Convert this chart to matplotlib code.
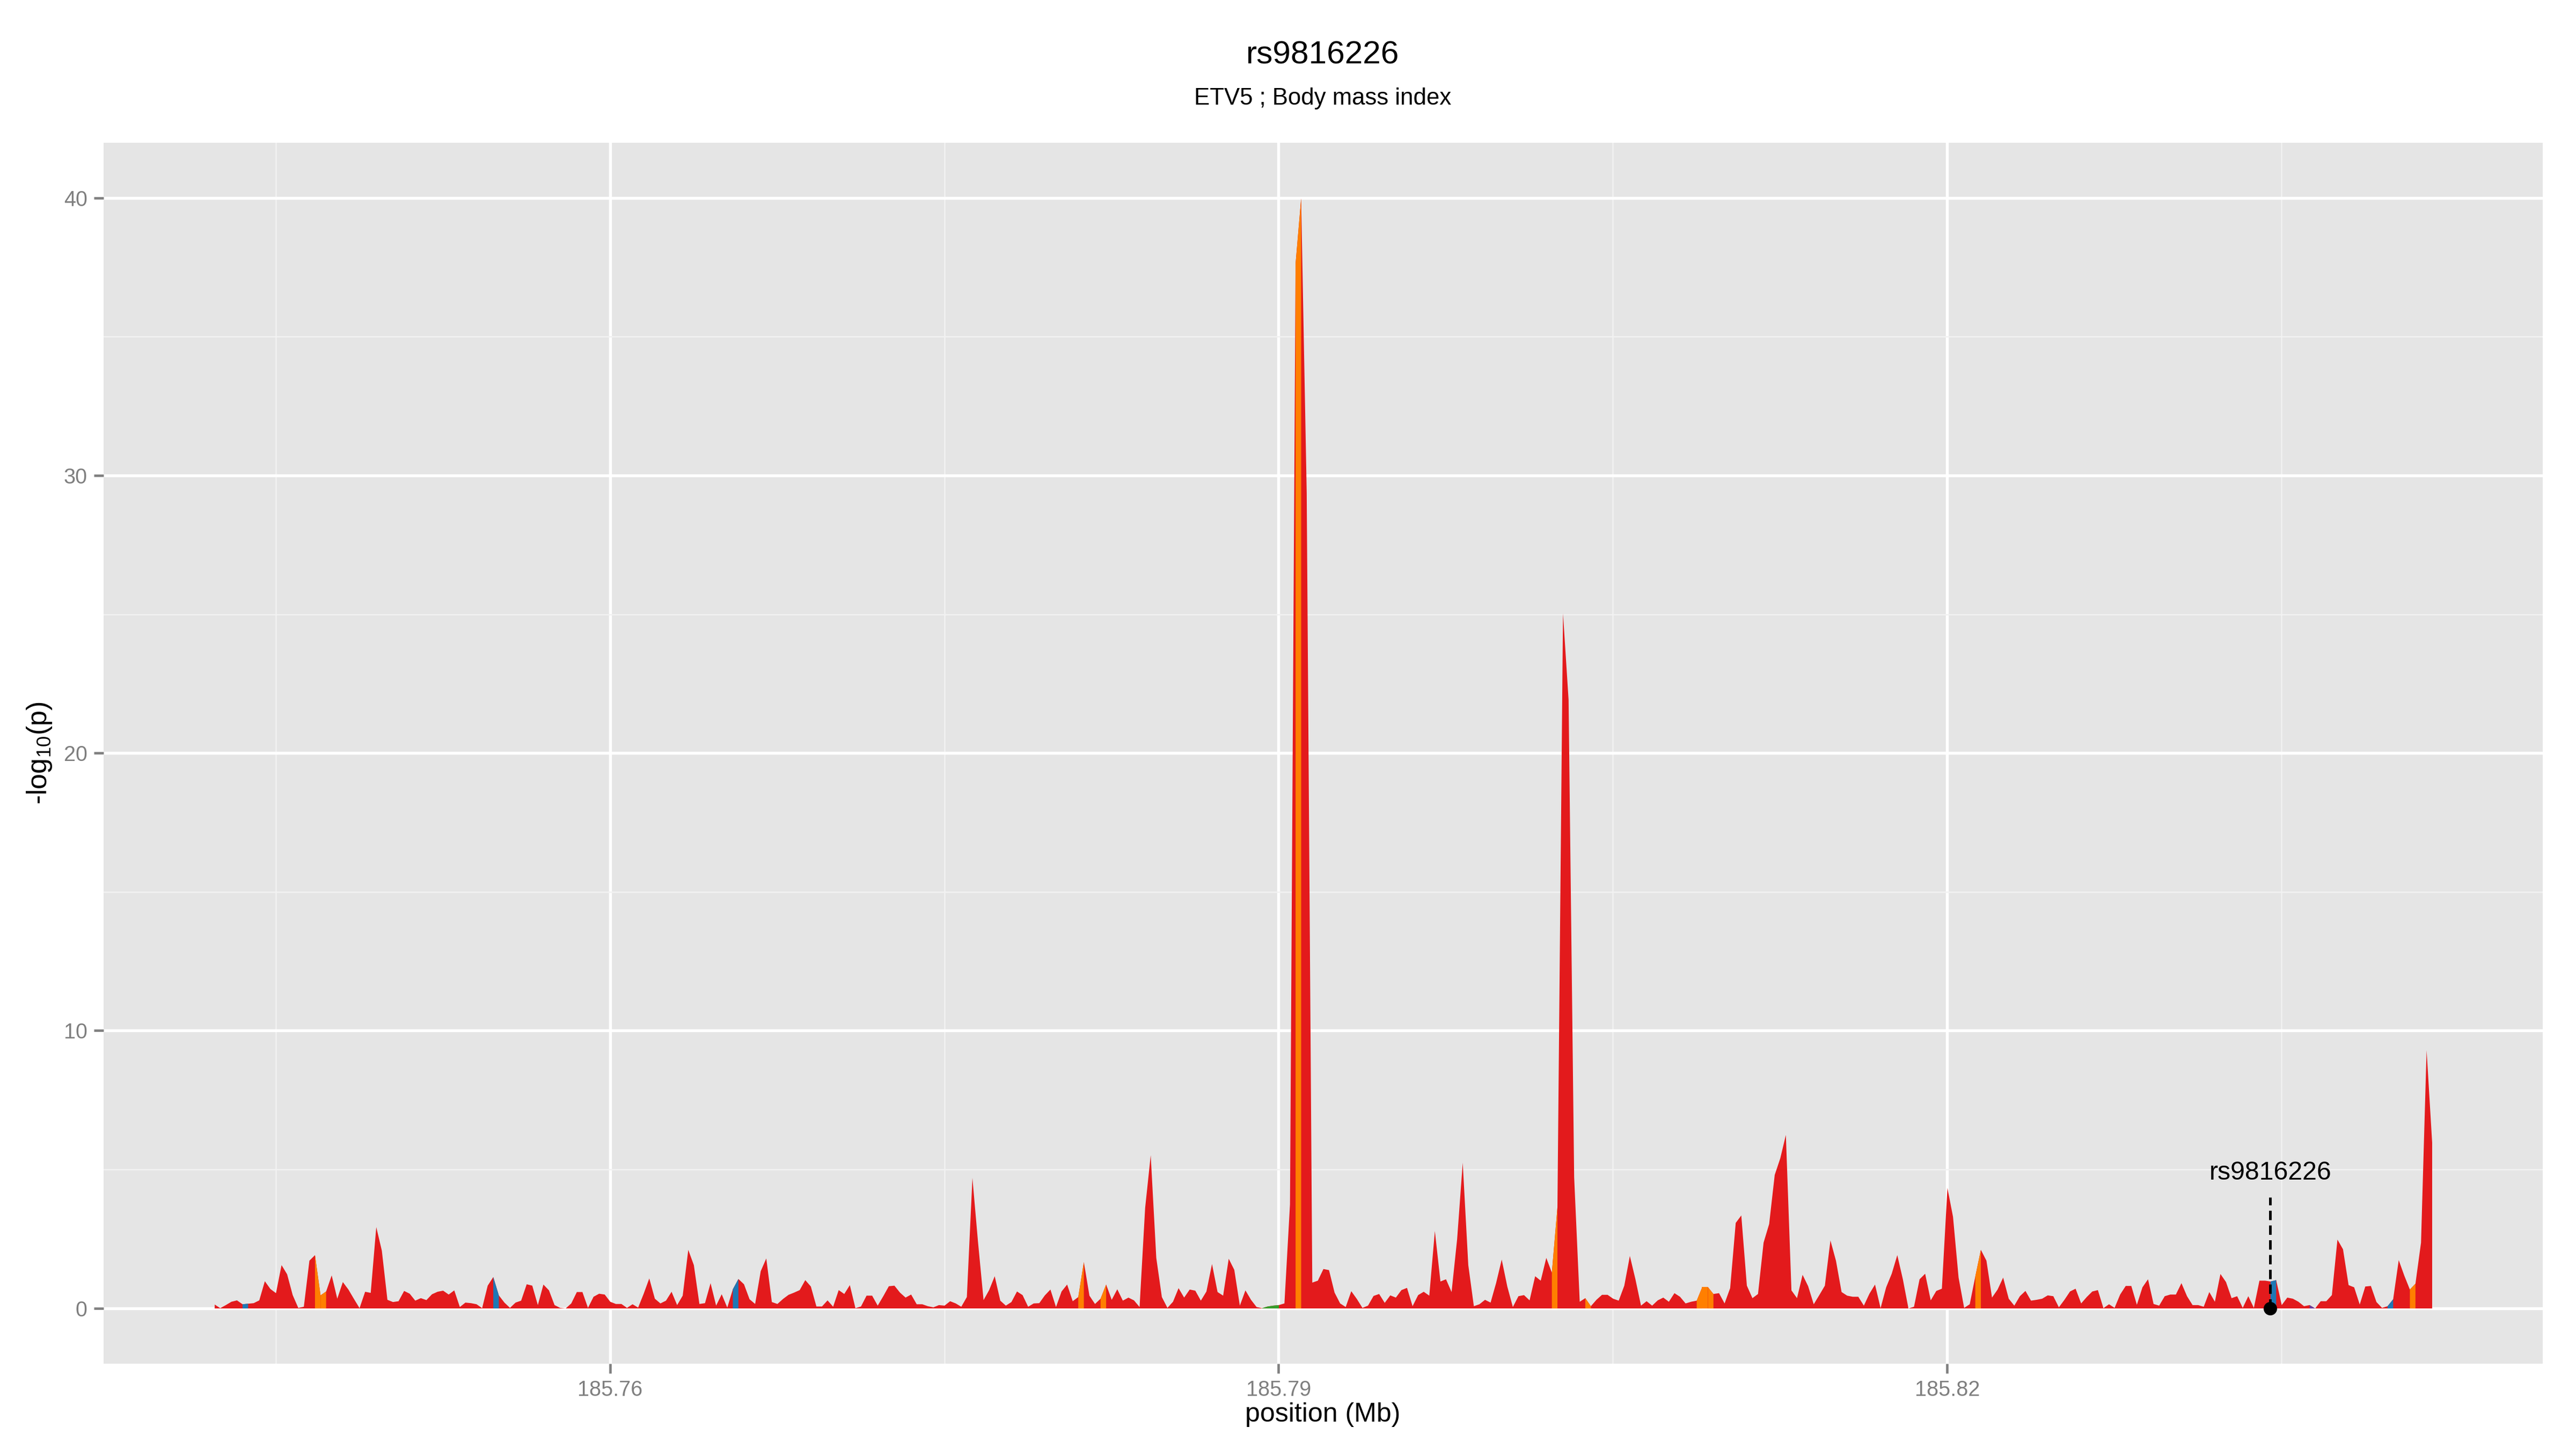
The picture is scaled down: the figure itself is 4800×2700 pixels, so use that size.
import numpy as np
import matplotlib.pyplot as plt

plt.switch_backend('Agg')
plt.rcParams['font.family'] = ['Liberation Sans', 'DejaVu Sans']
plt.rcParams['mathtext.fontset'] = 'custom'
plt.rcParams['mathtext.rm'] = 'Liberation Sans'

### data
title = 'rs9816226'
subtitle = 'ETV5 ; Body mass index'
lead_snp = 'rs9816226'
lead_bp = 185834500

position_bp = [
  185742250, 185742500, 185742750, 185743000, 185743250, 185743500, 185743750, 185744000, 185744250, 185744500,
  185744750, 185745000, 185745250, 185745500, 185745750, 185746000, 185746250, 185746500, 185746750, 185747000,
  185747250, 185747500, 185747750, 185748000, 185748250, 185748500, 185748750, 185749000, 185749250, 185749500,
  185749750, 185750000, 185750250, 185750500, 185750750, 185751000, 185751250, 185751500, 185751750, 185752000,
  185752250, 185752500, 185752750, 185753000, 185753250, 185753500, 185753750, 185754000, 185754250, 185754500,
  185754750, 185755000, 185755250, 185755500, 185755750, 185756000, 185756250, 185756500, 185756750, 185757000,
  185757250, 185757500, 185757750, 185758000, 185758250, 185758500, 185758750, 185759000, 185759250, 185759500,
  185759750, 185760000, 185760250, 185760500, 185760750, 185761000, 185761250, 185761500, 185761750, 185762000,
  185762250, 185762500, 185762750, 185763000, 185763250, 185763500, 185763750, 185764000, 185764250, 185764500,
  185764750, 185765000, 185765250, 185765500, 185765750, 185766000, 185766250, 185766500, 185766750, 185767000,
  185767250, 185767500, 185767750, 185768000, 185768250, 185768500, 185768750, 185769000, 185769250, 185769500,
  185769750, 185770000, 185770250, 185770500, 185770750, 185771000, 185771250, 185771500, 185771750, 185772000,
  185772250, 185772500, 185772750, 185773000, 185773250, 185773500, 185773750, 185774000, 185774250, 185774500,
  185774750, 185775000, 185775250, 185775500, 185775750, 185776000, 185776250, 185776500, 185776750, 185777000,
  185777250, 185777500, 185777750, 185778000, 185778250, 185778500, 185778750, 185779000, 185779250, 185779500,
  185779750, 185780000, 185780250, 185780500, 185780750, 185781000, 185781250, 185781500, 185781750, 185782000,
  185782250, 185782500, 185782750, 185783000, 185783250, 185783500, 185783750, 185784000, 185784250, 185784500,
  185784750, 185785000, 185785250, 185785500, 185785750, 185786000, 185786250, 185786500, 185786750, 185787000,
  185787250, 185787500, 185787750, 185788000, 185788250, 185788500, 185788750, 185789000, 185789250, 185789500,
  185789750, 185790000, 185790250, 185790500, 185790750, 185791000, 185791250, 185791500, 185791750, 185792000,
  185792250, 185792500, 185792750, 185793000, 185793250, 185793500, 185793750, 185794000, 185794250, 185794500,
  185794750, 185795000, 185795250, 185795500, 185795750, 185796000, 185796250, 185796500, 185796750, 185797000,
  185797250, 185797500, 185797750, 185798000, 185798250, 185798500, 185798750, 185799000, 185799250, 185799500,
  185799750, 185800000, 185800250, 185800500, 185800750, 185801000, 185801250, 185801500, 185801750, 185802000,
  185802250, 185802500, 185802750, 185803000, 185803250, 185803500, 185803750, 185804000, 185804250, 185804500,
  185804750, 185805000, 185805250, 185805500, 185805750, 185806000, 185806250, 185806500, 185806750, 185807000,
  185807250, 185807500, 185807750, 185808000, 185808250, 185808500, 185808750, 185809000, 185809250, 185809500,
  185809750, 185810000, 185810250, 185810500, 185810750, 185811000, 185811250, 185811500, 185811750, 185812000,
  185812250, 185812500, 185812750, 185813000, 185813250, 185813500, 185813750, 185814000, 185814250, 185814500,
  185814750, 185815000, 185815250, 185815500, 185815750, 185816000, 185816250, 185816500, 185816750, 185817000,
  185817250, 185817500, 185817750, 185818000, 185818250, 185818500, 185818750, 185819000, 185819250, 185819500,
  185819750, 185820000, 185820250, 185820500, 185820750, 185821000, 185821250, 185821500, 185821750, 185822000,
  185822250, 185822500, 185822750, 185823000, 185823250, 185823500, 185823750, 185824000, 185824250, 185824500,
  185824750, 185825000, 185825250, 185825500, 185825750, 185826000, 185826250, 185826500, 185826750, 185827000,
  185827250, 185827500, 185827750, 185828000, 185828250, 185828500, 185828750, 185829000, 185829250, 185829500,
  185829750, 185830000, 185830250, 185830500, 185830750, 185831000, 185831250, 185831500, 185831750, 185832000,
  185832250, 185832500, 185832750, 185833000, 185833250, 185833500, 185833750, 185834000, 185834250, 185834500,
  185834750, 185835000, 185835250, 185835500, 185835750, 185836000, 185836250, 185836500, 185836750, 185837000,
  185837250, 185837500, 185837750, 185838000, 185838250, 185838500, 185838750, 185839000, 185839250, 185839500,
  185839750, 185840000, 185840250, 185840500, 185840750, 185841000, 185841250, 185841500, 185841750,
]

neglog10p = [
  0.14, 0.01, 0.12, 0.24, 0.29, 0.15, 0.17, 0.19, 0.29, 0.98,
  0.70, 0.55, 1.56, 1.23, 0.48, 0.02, 0.06, 1.72, 1.92, 0.47,
  0.61, 1.19, 0.35, 0.95, 0.68, 0.34, 0.01, 0.60, 0.56, 2.93,
  2.08, 0.31, 0.23, 0.26, 0.63, 0.53, 0.28, 0.37, 0.30, 0.51,
  0.60, 0.64, 0.50, 0.65, 0.05, 0.21, 0.19, 0.15, 0.01, 0.82,
  1.13, 0.47, 0.21, 0.02, 0.21, 0.28, 0.87, 0.82, 0.12, 0.86,
  0.65, 0.12, 0.02, 0.00, 0.18, 0.59, 0.59, 0.02, 0.42, 0.53,
  0.50, 0.24, 0.16, 0.16, 0.02, 0.15, 0.03, 0.53, 1.08, 0.35,
  0.18, 0.28, 0.60, 0.12, 0.46, 2.11, 1.56, 0.16, 0.19, 0.91,
  0.10, 0.51, 0.03, 0.69, 1.06, 0.87, 0.33, 0.16, 1.34, 1.80,
  0.23, 0.16, 0.34, 0.49, 0.57, 0.66, 1.02, 0.79, 0.07, 0.07,
  0.29, 0.06, 0.66, 0.52, 0.84, 0.01, 0.07, 0.46, 0.46, 0.10,
  0.44, 0.80, 0.82, 0.57, 0.39, 0.50, 0.15, 0.15, 0.08, 0.04,
  0.12, 0.10, 0.26, 0.18, 0.06, 0.41, 4.70, 2.40, 0.30, 0.66,
  1.16, 0.28, 0.10, 0.23, 0.61, 0.48, 0.06, 0.18, 0.19, 0.47,
  0.68, 0.05, 0.61, 0.86, 0.26, 0.41, 1.67, 0.46, 0.16, 0.35,
  0.86, 0.31, 0.69, 0.28, 0.39, 0.29, 0.05, 3.62, 5.52, 1.82,
  0.41, 0.02, 0.24, 0.73, 0.39, 0.68, 0.64, 0.28, 0.61, 1.60,
  0.59, 0.46, 1.79, 1.39, 0.10, 0.65, 0.31, 0.05, 0.01, 0.07,
  0.10, 0.12, 0.18, 3.75, 37.64, 39.99, 29.37, 0.93, 1.00, 1.42,
  1.38, 0.57, 0.18, 0.05, 0.62, 0.34, 0.02, 0.10, 0.45, 0.52,
  0.20, 0.47, 0.39, 0.66, 0.74, 0.08, 0.48, 0.60, 0.46, 2.79,
  0.97, 1.05, 0.59, 2.50, 5.25, 1.56, 0.08, 0.15, 0.31, 0.21,
  0.92, 1.76, 0.79, 0.05, 0.44, 0.48, 0.29, 1.16, 1.00, 1.82,
  1.29, 3.64, 25.04, 21.93, 4.73, 0.24, 0.37, 0.08, 0.31, 0.49,
  0.49, 0.35, 0.28, 0.82, 1.89, 1.05, 0.10, 0.26, 0.10, 0.29,
  0.39, 0.24, 0.55, 0.42, 0.18, 0.24, 0.28, 0.77, 0.77, 0.52,
  0.55, 0.18, 0.73, 3.08, 3.35, 0.82, 0.37, 0.52, 2.37, 3.04,
  4.81, 5.41, 6.25, 0.65, 0.37, 1.21, 0.80, 0.15, 0.48, 0.82,
  2.45, 1.71, 0.59, 0.46, 0.42, 0.42, 0.10, 0.53, 0.86, 0.01,
  0.76, 1.25, 1.92, 1.05, 0.00, 0.06, 1.05, 1.25, 0.29, 0.63,
  0.71, 4.34, 3.30, 1.11, 0.02, 0.15, 1.15, 2.11, 1.72, 0.39,
  0.68, 1.11, 0.35, 0.10, 0.44, 0.63, 0.28, 0.31, 0.35, 0.47,
  0.44, 0.04, 0.31, 0.61, 0.71, 0.18, 0.41, 0.61, 0.66, 0.01,
  0.15, 0.02, 0.50, 0.81, 0.81, 0.13, 0.76, 1.05, 0.16, 0.10,
  0.44, 0.50, 0.50, 0.91, 0.44, 0.12, 0.12, 0.06, 0.59, 0.24,
  1.24, 0.95, 0.37, 0.44, 0.02, 0.44, 0.02, 1.00, 1.00, 0.97,
  1.02, 0.12, 0.39, 0.35, 0.24, 0.08, 0.12, 0.00, 0.26, 0.26,
  0.48, 2.48, 2.13, 0.84, 0.76, 0.14, 0.79, 0.81, 0.23, 0.02,
  0.08, 0.33, 1.74, 1.18, 0.68, 0.89, 2.37, 9.30, 5.97,
]

# SNPs drawn in another LD colour (the strip from that SNP to the next one)
orange_bp = [185746750, 185747000, 185781000, 185782000, 185790750, 185802250,
             185803750, 185808750, 185809000, 185809250, 185821250, 185840750]
blue_bp = [185743500, 185754750, 185765500, 185834500, 185839750]
green_bp = [185789250, 185789500, 185789750]
purple_bp = [185836250]

x_major = [185.76, 185.79, 185.82]
x_minor = [185.745, 185.775, 185.805, 185.835]
y_major = [0, 10, 20, 30, 40]
y_minor = [5, 15, 25, 35]

pos = np.array(position_bp) / 1e6
val = np.array(neglog10p)

fig = plt.figure(figsize=(16, 9), dpi=300)
ax = fig.add_axes([0.0402, 0.0589, 0.9469, 0.8426])
ax.set_facecolor('#E5E5E5')
for s in ax.spines.values():
  s.set_visible(False)
ax.set_axisbelow(True)

ax.fill_between(pos, val, 0, color='#E31A1C', lw=0)
for col, lst in [('#FF7F00', orange_bp), ('#1F78B4', blue_bp),
                 ('#33A02C', green_bp), ('#6A3D9A', purple_bp)]:
  for bp in lst:
    i = position_bp.index(bp)
    ax.fill_between(pos[i:i+2], val[i:i+2], 0, color=col, lw=0)

# lead SNP annotation
lx = lead_bp / 1e6
ax.plot([lx, lx], [0, 4], color='black', lw=1.2, ls=(0, (3.5, 2)))
ax.plot([lx], [0], 'o', color='black', ms=5)
ax.text(lx, 4.64, lead_snp, ha='center', va='baseline', fontsize=11.6)

xr = pos.max() - pos.min()
ax.set_xlim(pos.min() - 0.05*xr, pos.max() + 0.05*xr)
ax.set_ylim(-0.05*val.max(), 1.05*val.max())

ax.set_xticks(x_major)
ax.set_xticklabels(['{:.2f}'.format(v) for v in x_major])
ax.set_xticks(x_minor, minor=True)
ax.set_yticks(y_major)
ax.set_yticks(y_minor, minor=True)
ax.grid(which='major', color='white', lw=1.3)
ax.grid(which='minor', color='#F2F2F2', lw=0.6)
ax.tick_params(which='major', length=4.3, width=1.1, color='#7F7F7F',
               labelcolor='#7F7F7F', labelsize=9.5, pad=3)
ax.tick_params(which='minor', length=0)

cx = 2465/4800
fig.text(cx, 1 - 103/2700, title, ha='center', va='center', fontsize=14.5)
fig.text(cx, 1 - 183/2700, subtitle, ha='center', va='center', fontsize=10.5)
fig.text(cx, 1 - 2636/2700, 'position (Mb)', ha='center', va='center', fontsize=12)
fig.text(73/4800, 1 - 1403/2700, r'-log$_{10}$(p)', rotation=90,
         ha='center', va='center', fontsize=12.5)

plt.savefig('out.png', dpi=300)
